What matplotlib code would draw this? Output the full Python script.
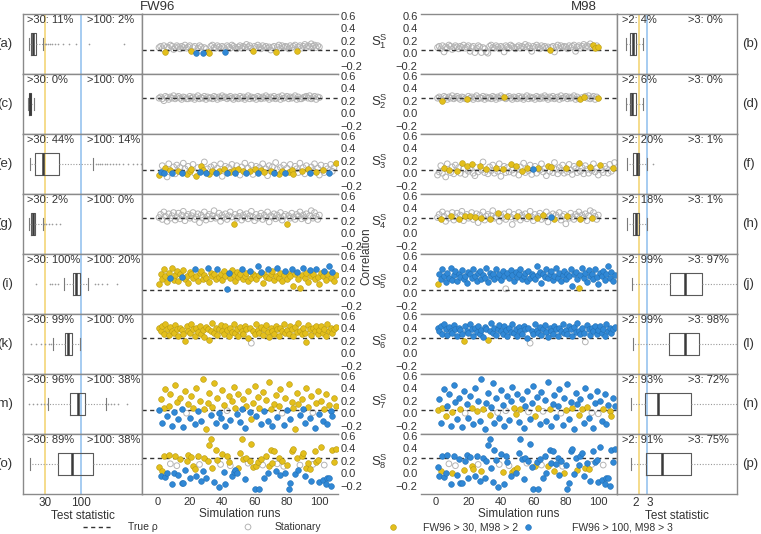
import numpy as np
import matplotlib
matplotlib.use("Agg")
import matplotlib.pyplot as plt
from matplotlib.ticker import NullLocator

plt.rcParams["font.family"] = ["Liberation Sans", "DejaVu Sans"]
plt.rcParams["mathtext.fontset"] = "custom"
plt.rcParams["mathtext.rm"] = "Liberation Sans"
plt.rcParams["mathtext.it"] = "Liberation Sans:italic"

INK = "#333333"
FRAME = "#8a8a8a"
YEL = "#E3BF1C"
YEL_EDGE = "#B89A10"
BLU = "#3088D6"
BLU_EDGE = "#2270B5"
GREY = "#B4B4B4"
YEL_LINE = "#F4D982"
BLU_LINE = "#9FC8F0"

# ---- data ----------------------------------------------------------------
TRUE_RHO = [0.05, 0.25, 0.05, 0.25, 0.05, 0.25, 0.05, 0.25]
S_LABELS = [1, 2, 3, 4, 5, 6, 7, 8]
LEFT_TAGS = ["(a)", "(c)", "(e)", "(g)", "(i)", "(k)", "(m)", "(o)"]
RIGHT_TAGS = ["(b)", "(d)", "(f)", "(h)", "(j)", "(l)", "(n)", "(p)"]

# correlation estimate per simulation run (hundredths)
CORR_S1 = [9, 11, 7, 12, 2, 10, 8, 13, 11, 6,
           9, 12, 10, 7, 11, 9, 13, 8, 10, 12,
           3, 9, 11, 1, 8, 12, 10, 1, 9, 7,
           2, 0, 11, 13, 9, 8, 12, 10, 7, 11,
           9, 2, 12, 10, 8, 13, 11, 9, 7, 10,
           12, 8, 11, 9, 14, 10, 12, 8, 3, 11,
           9, 13, 10, 7, 12, 9, 11, 8, 10, 5,
           9, 11, 2, 10, 13, 8, 12, 9, 11, 10,
           7, 12, 9, 11, 13, 3, 10, 12, 8, 11,
           14, 9, 12, 10, 15, 11, 13, 9, 12, 10]
CORR_S2 = [24, 26, 23, 20, 27, 25, 22, 26, 24, 28,
           23, 25, 27, 24, 22, 26, 25, 23, 23, 27,
           24, 26, 22, 25, 28, 23, 25, 24, 27, 22,
           26, 24, 25, 23, 27, 25, 22, 26, 24, 28,
           25, 26, 23, 25, 27, 24, 22, 26, 25, 23,
           27, 24, 26, 22, 25, 28, 23, 26, 24, 25,
           22, 27, 25, 23, 26, 24, 28, 25, 22, 26,
           24, 27, 23, 25, 26, 22, 28, 24, 25, 27,
           23, 26, 24, 25, 28, 22, 26, 23, 23, 25,
           26, 27, 24, 28, 23, 25, 27, 22, 26, 25]
CORR_S3 = [-3, 2, 12, 0, 8, -6, 15, 5, 1, 10,
           -1, 13, 4, 9, 0, 16, 7, -2, 11, 3,
           6, 14, 0, -4, 9, 2, 12, 5, 18, 1,
           7, -1, 10, 4, 13, 0, 8, 3, 15, -5,
           6, 11, 1, 9, 2, 14, 5, 0, 12, 7,
           -3, 10, 3, 16, 1, 8, 4, 13, -2, 6,
           11, 0, 9, 5, 15, 2, 7, -4, 12, 3,
           10, 1, 17, 6, -1, 9, 4, 13, 0, 8,
           2, 14, 5, -2, 11, 7, 1, 16, 3, 9,
           -1, 12, 6, 0, 10, 4, 15, 2, 8, -3,
           13, 5, 1, 11, 7, 0, 14, 3, 9, 17]
CORR_S4 = [25, 30, 22, 34, 27, 19, 31, 24, 28, 33,
           21, 26, 32, 23, 29, 35, 20, 27, 30, 24,
           28, 33, 22, 26, 31, 17, 29, 25, 34, 21,
           27, 30, 23, 28, 36, 24, 26, 32, 19, 29,
           25, 31, 22, 28, 34, 26, 14, 30, 24, 27,
           33, 21, 29, 25, 31, 23, 28, 35, 26, 20,
           30, 24, 27, 32, 22, 29, 25, 34, 18, 28,
           26, 31, 23, 29, 25, 33, 21, 27, 30, 15,
           28, 24, 32, 26, 22, 30, 27, 34, 23, 29,
           25, 31, 20, 28, 36, 24, 33, 27, 22, 29]
CORR_S5 = [15, 30, 22, 38, 27, 18, 33, 25, 40, 21,
           29, 35, 19, 31, 26, 37, 23, 28, 16, 34,
           30, 24, 39, 27, 20, 32, 36, 22, 29, 25,
           41, 18, 33, 27, 30, 23, 38, 26, 31, 21,
           35, 28, 7, 32, 24, 37, 29, 20, 34, 26,
           30, 39, 23, 28, 33, 19, 36, 25, 31, 27,
           22, 44, 29, 34, 17, 31, 26, 38, 24, 30,
           35, 21, 28, 40, 25, 33, 19, 29, 36, 23,
           31, 27, 38, 12, 30, 34, 22, 8, 29, 41,
           25, 33, 18, 37, 28, 31, 23, 39, 26, 14,
           32, 27, 36, 21, 30, 43, 25, 34, 20, 29]
CORR_S6 = [40, 36, 44, 31, 47, 38, 29, 42, 35, 33,
           45, 39, 27, 41, 37, 30, 19, 43, 36, 32,
           46, 38, 28, 40, 34, 44, 31, 37, 26, 42,
           39, 21, 35, 48, 33, 41, 29, 38, 45, 36,
           30, 43, 37, 27, 40, 34, 46, 32, 39, 28,
           42, 36, 31, 44, 38, 25, 41, 16, 35, 30,
           47, 37, 33, 42, 29, 39, 45, 34, 26, 40,
           36, 31, 43, 38, 28, 41, 35, 46, 32, 37,
           30, 44, 39, 27, 42, 34, 48, 36, 31, 40,
           33, 18, 45, 38, 29, 41, 35, 43, 30, 37,
           44, 32, 39, 27, 46, 36, 41, 33, 38, 42]
CORR_S7 = [5, 22, -15, 8, 38, -5, 12, 30, -20, 2,
           45, 18, -10, 25, 6, -22, 35, 0, 14, -8,
           28, 9, -18, 40, 3, 20, -12, 55, 7, -25,
           16, 33, -3, 10, 48, -16, 24, 1, -7, 37,
           13, -20, 4, 27, -11, 19, 42, 8, -2, 31,
           -14, 6, 23, -24, 11, 36, 2, -9, 17, 44,
           -4, 26, 9, -17, 34, 3, 21, -13, 50, 7,
           -21, 15, 29, -6, 12, 39, 0, -19, 24, 5,
           46, -10, 18, 8, -26, 32, 14, -3, 22, 6,
           -15, 41, 10, -8, 27, 1, -23, 16, 35, -1,
           20, -12, 7, 30, -18, 13, 4, -5, 25, 11]
CORR_S8 = [10, -5, 3, 28, -6, 0, 29, 15, -18, 1,
           28, 12, -3, 22, -15, -16, 5, 20, 29, -8,
           26, 11, 7, -4, 28, 14, -12, 3, 25, -7,
           19, 45, 55, 8, -14, 37, 21, -22, 14, 30,
           2, -17, 27, 18, 12, -5, 2, 5, 1, 9,
           33, 55, 22, -10, 25, 16, 19, 47, 10, -26,
           11, 18, -26, 22, 13, -8, 28, 0, 12, 37,
           17, 36, 3, 15, 25, -3, 20, 11, 1, 13,
           -26, -16, 36, 38, -2, 24, 5, 13, 28, 33,
           -5, 9, 17, 6, -12, 14, 35, 18, 21, -14,
           42, -11, 13, -17, -8, -7, -20, 37, 18, 39]

# run classes: s = stationary, y = FW96 > 30 / M98 > 2, b = FW96 > 100 / M98 > 3
FLAG_A = {"base": "s", "y": [5, 21, 31, 32, 59, 73, 86], "b": [24, 28, 42]}
FLAG_B = {"base": "s", "y": [70, 97, 98, 100]}
FLAG_C = {"base": "s"}
FLAG_D = {"base": "s", "y": [4, 19, 42, 89, 91, 100]}
FLAG_E = {"base": "s",
          "y": [1, 5, 8, 13, 18, 20, 21, 24, 27, 28, 32, 34, 38, 41, 45, 47, 50,
                53, 57, 60, 64, 66, 70, 75, 77, 81, 83, 84, 89, 93, 98, 102, 110],
          "b": [2, 4, 9, 15, 26, 30, 36, 43, 48, 55, 62, 72, 79, 94, 106]}
FLAG_F = {"base": "s",
          "y": [5, 8, 13, 16, 19, 22, 27, 31, 37, 41, 46, 49, 53, 56, 63, 69, 71,
                80, 88, 95, 101, 109],
          "b": [60]}
FLAG_G = {"base": "s", "y": [47, 80]}
FLAG_H = {"base": "s",
          "y": [3, 9, 14, 18, 21, 24, 28, 33, 38, 44, 50, 57, 62, 66, 73, 81, 89, 96],
          "b": [71]}
FLAG_I = {"base": "y",
          "b": [8, 15, 23, 31, 37, 43, 44, 52, 57, 62, 64, 68, 74, 79, 83, 86, 90,
                94, 98, 103, 106, 108]}
FLAG_J = {"base": "b", "y": [1, 88], "s": [43]}
FLAG_K = {"base": "y", "s": [58]}
FLAG_L = {"base": "b", "y": [17, 32], "s": [58, 92]}
FLAG_M = {"base": "y", "s": [18, 43, 77, 96],
          "b": [1, 3, 6, 9, 10, 13, 15, 16, 20, 23, 25, 27, 33, 36, 38, 39, 42, 45,
                49, 51, 52, 54, 57, 61, 64, 66, 68, 71, 74, 78, 80, 82, 88, 90, 91,
                94, 97, 100, 102, 105, 107, 108]}
FLAG_N = {"base": "b", "s": [18, 38, 43, 57, 66, 77, 96, 100],
          "y": [1, 4, 6, 10, 15, 22, 25, 29, 33, 48, 49, 52, 61, 63, 70, 80, 84, 88,
                90, 93, 103, 107, 108]}
FLAG_O = {"base": "y", "s": [8, 12, 26, 39, 45, 56, 65, 74, 78, 88, 96, 103],
          "b": [2, 5, 6, 9, 10, 13, 15, 16, 17, 20, 24, 27, 28, 30, 35, 38, 41, 42,
                46, 47, 48, 49, 54, 60, 63, 66, 68, 73, 76, 79, 81, 82, 85, 87, 91,
                95, 100, 102, 104, 105, 106, 107]}
FLAG_P = {"base": "b", "s": [8, 12, 26, 39, 45, 56, 65, 78, 96, 103],
          "y": [3, 10, 17, 22, 23, 28, 41, 47, 48, 50, 61, 69, 73, 79, 87, 92, 94]}

# box plot summaries of the test statistics
FW_LO = [17.5, 17.2, 18.2, 17.7, 55.8, 39.6, 33.6, 18.2]
FW_Q1 = [18.6, 17.7, 21.4, 18.6, 75.4, 58.9, 69.6, 46.9]
FW_MED = [20.3, 18.2, 27.7, 19.8, 84.0, 65.8, 89.0, 75.0]
FW_Q3 = [22.1, 18.8, 48.5, 21.3, 95.9, 73.1, 114.0, 150.0]
FW_HI = [28.0, 20.5, 150.0, 27.7, 126.0, 96.5, 229.0, 900.0]
FW_FLIERS = [[30, 31, 33, 35, 38, 42, 47, 55, 68, 85, 130, 420],
             [],
             [165, 175, 190, 205, 220, 240, 260, 290, 320, 360, 410, 480, 560, 650, 750],
             [29, 31, 34, 38, 43, 49],
             [22, 35, 38, 42, 46, 160, 175, 200, 240, 330],
             [19, 22, 26, 30, 34, 37],
             [17.7, 20, 23, 26, 29, 31.7, 245, 270, 300, 350, 465],
             []]
M98_LO = [0.31, 0.31, 0.48, 0.48, 1.05, 1.2, 0.92, 0.92]
M98_Q1 = [0.83, 0.83, 1.26, 1.26, 6.0, 5.9, 2.78, 2.87]
M98_MED = [1.26, 1.04, 1.70, 1.65, 8.0, 8.0, 4.5, 4.95]
M98_Q3 = [1.61, 1.61, 2.04, 2.04, 10.1, 9.8, 8.7, 8.7]
M98_HI = [2.56, 2.56, 3.0, 3.0, 16.0, 16.0, 17.0, 17.0]
M98_FLIERS = [[], [], [3.8], [], [], [], [], []]

FW_P30 = [11, 0, 44, 2, 100, 99, 96, 89]
FW_P100 = [2, 0, 14, 0, 20, 0, 38, 38]
M98_P2 = [4, 6, 20, 18, 99, 99, 93, 91]
M98_P3 = [0, 0, 1, 1, 97, 98, 72, 75]

CORR = [CORR_S1, CORR_S2, CORR_S3, CORR_S4, CORR_S5, CORR_S6, CORR_S7, CORR_S8]
FLAGS_FW = [FLAG_A, FLAG_C, FLAG_E, FLAG_G, FLAG_I, FLAG_K, FLAG_M, FLAG_O]
FLAGS_M98 = [FLAG_B, FLAG_D, FLAG_F, FLAG_H, FLAG_J, FLAG_L, FLAG_N, FLAG_P]

# ---- layout (pixels) -------------------------------------------------------
W, H = 761, 534
ROW_TOP, ROW_H = 14, 60
DOT = 17
fig = plt.figure(figsize=(W / 100, H / 100), dpi=100)


def px_axes(x0, x1, y0, y1):
    return fig.add_axes([x0 / W, 1 - y1 / H, (x1 - x0) / W, (y1 - y0) / H])


def classes(spec, n):
    cat = np.full(n, spec["base"])
    for key in ("s", "y", "b"):
        idx = np.array(spec.get(key, []), dtype=int) - 1
        cat[idx] = key
    return cat


def style_frame(ax, hide=None):
    for sp in ax.spines.values():
        sp.set_color(FRAME)
        sp.set_linewidth(1.0)
    if hide:
        ax.spines[hide].set_visible(False)


def draw_runs(ax, corr, rho, cat):
    runs = np.arange(1, len(corr) + 1)
    y = np.asarray(corr) / 100
    ax.axhline(rho, color=INK, lw=1.0, ls=(0, (3, 2.5)), zorder=2)
    m = cat == "s"
    ax.scatter(runs[m], y[m], s=DOT, facecolors="none", edgecolors=GREY,
               linewidths=0.7, zorder=1)
    m = cat == "y"
    ax.scatter(runs[m], y[m], s=DOT, c=YEL, edgecolors=YEL_EDGE,
               linewidths=0.4, zorder=3)
    m = cat == "b"
    ax.scatter(runs[m], y[m], s=DOT, c=BLU, edgecolors=BLU_EDGE,
               linewidths=0.4, zorder=3)
    ax.set_xlim(-9.5, 111.5)
    ax.set_ylim(-0.333, 0.627)
    ax.set_yticks([-0.2, 0.0, 0.2, 0.4, 0.6])
    ax.set_xticks([0, 20, 40, 60, 80, 100])
    ax.tick_params(length=0, labelsize=8, pad=2, colors=INK)


def draw_box(ax, stats, cut, xlim, log):
    if log:
        ax.set_xscale("log")
    ax.set_xlim(*xlim)
    ax.set_ylim(0, 1)
    for v, col in zip(cut, (YEL_LINE, BLU_LINE)):
        ax.axvline(v, color=col, lw=1.3, zorder=0)
    ax.bxp([stats], positions=[0.5], widths=0.38, orientation="horizontal",
           capwidths=0.2, showfliers=True,
           boxprops=dict(color="#5a5a5a", lw=0.8),
           medianprops=dict(color="#3a3a3a", lw=1.8),
           whiskerprops=dict(color="#9a9a9a", lw=0.8, ls=(0, (1, 1.5))),
           capprops=dict(color="#7a7a7a", lw=0.8),
           flierprops=dict(marker="o", ms=1.2, mfc="#9a9a9a", mec="none"))
    ax.set_yticks([])
    ax.xaxis.set_minor_locator(NullLocator())
    ax.set_xticks(cut)
    ax.tick_params(length=0, labelsize=8.5, pad=2, colors=INK)


for r in range(8):
    top = ROW_TOP + r * ROW_H
    bot = top + ROW_H
    last = r == 7
    n = len(CORR[r])

    # FW96 box plot
    axb = px_axes(23, 142, top, bot)
    st = dict(whislo=FW_LO[r], q1=FW_Q1[r], med=FW_MED[r], q3=FW_Q3[r],
              whishi=FW_HI[r], fliers=FW_FLIERS[r])
    draw_box(axb, st, [30, 100], (14.4, 768), True)
    axb.set_xticklabels(["30", "100"])
    axb.text(0.034, 0.9, f">30: {FW_P30[r]}%", transform=axb.transAxes,
             fontsize=8, va="center", color=INK)
    axb.text(0.54, 0.9, f">100: {FW_P100[r]}%", transform=axb.transAxes,
             fontsize=8, va="center", color=INK)
    style_frame(axb)

    # FW96 scatter
    axs = px_axes(142, 338, top, bot)
    draw_runs(axs, CORR[r], TRUE_RHO[r], classes(FLAGS_FW[r], n))
    axs.yaxis.tick_right()
    style_frame(axs, hide="right")

    # M98 scatter
    axm = px_axes(420.5, 617, top, bot)
    draw_runs(axm, CORR[r], TRUE_RHO[r], classes(FLAGS_M98[r], n))
    style_frame(axm, hide="left")

    # M98 box plot
    axc = px_axes(617, 737, top, bot)
    st = dict(whislo=M98_LO[r], q1=M98_Q1[r], med=M98_MED[r], q3=M98_Q3[r],
              whishi=M98_HI[r], fliers=M98_FLIERS[r])
    draw_box(axc, st, [2, 3], (-0.86, 14.7), False)
    labs = axc.set_xticklabels(["2", "3"])
    labs[0].set_ha("right")
    labs[1].set_ha("left")
    axc.text(0.04, 0.9, f">2: {M98_P2[r]}%", transform=axc.transAxes,
             fontsize=8, va="center", color=INK)
    axc.text(0.59, 0.9, f">3: {M98_P3[r]}%", transform=axc.transAxes,
             fontsize=8, va="center", color=INK)
    style_frame(axc)

    for ax in (axb, axs, axm, axc):
        if not last:
            ax.tick_params(labelbottom=False)
    if last:
        axb.set_xlabel("Test statistic", fontsize=8.5, labelpad=1, color=INK)
        axc.set_xlabel("Test statistic", fontsize=8.5, labelpad=1, color=INK)
        axs.set_xlabel("Simulation runs", fontsize=8.5, labelpad=1, color=INK)
        axm.set_xlabel("Simulation runs", fontsize=8.5, labelpad=1, color=INK)

    cy = 1 - (top + ROW_H / 2) / H
    fig.text(12.5 / W, cy, LEFT_TAGS[r], ha="right", va="center", fontsize=9.5, color=INK)
    fig.text(742 / W, cy, RIGHT_TAGS[r], ha="left", va="center", fontsize=9.5, color=INK)
    fig.text(379 / W, 1 - (top + ROW_H / 2 - 2) / H,
             r"$\mathrm{S}^{\mathrm{S}}_{%d}$" % S_LABELS[r],
             ha="center", va="center", fontsize=9.5, color=INK)

fig.text(158 / W, 1 - 7 / H, "FW96", ha="center", va="center", fontsize=9.5, color=INK)
fig.text(584 / W, 1 - 7 / H, "M98", ha="center", va="center", fontsize=9.5, color=INK)
fig.text(366 / W, 1 - 256 / H, "Correlation", rotation=90, ha="center",
         va="center", fontsize=8.5, color=INK)

# legend row along the bottom, in pixel units
lax = fig.add_axes([0, 0, 1, 1])
lax.set_xlim(0, W)
lax.set_ylim(H, 0)
lax.axis("off")
ly = 527
lax.plot([83, 113], [ly, ly], color=INK, lw=1.0, ls=(0, (3, 2.5)))
lax.text(128, ly, "True ρ", va="center", fontsize=7.5, color=INK)
lax.scatter([248], [ly], s=DOT, facecolors="none", edgecolors=GREY, linewidths=0.7)
lax.text(275, ly, "Stationary", va="center", fontsize=7.5, color=INK)
lax.scatter([393], [ly], s=DOT, c=YEL, edgecolors=YEL_EDGE, linewidths=0.4)
lax.text(423, ly, "FW96 > 30, M98 > 2", va="center", fontsize=7.5, color=INK)
lax.scatter([528], [ly], s=DOT, c=BLU, edgecolors=BLU_EDGE, linewidths=0.4)
lax.text(572, ly, "FW96 > 100, M98 > 3", va="center", fontsize=7.5, color=INK)

fig.savefig("out.png", dpi=100)
